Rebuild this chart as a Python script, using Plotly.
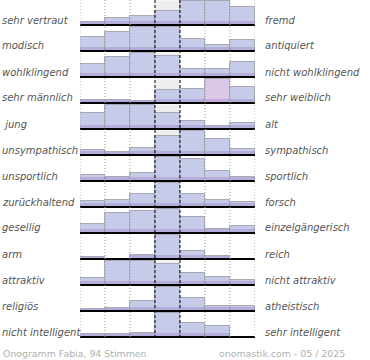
import plotly.graph_objects as go

# ---- data ----
left_labels = ["sehr vertraut", "modisch", "wohlklingend", "sehr männlich", " jung",
               "unsympathisch", "unsportlich", "zurückhaltend", "gesellig", "arm",
               "attraktiv", "religiös", "nicht intelligent"]
right_labels = ["fremd", "antiquiert", "nicht wohlklingend", "sehr weiblich", "alt",
                "sympathisch", "sportlich", "forsch", "einzelgängerisch", "reich",
                "nicht attraktiv", "atheistisch", "sehr intelligent"]

vertraut = [13, 27, 37, 57, 100, 100, 72]
modisch = [59, 79, 100, 100, 51, 24, 45]
wohlklingend = [53, 82, 100, 87, 31, 31, 61]
maennlich = [11, 12, 7, 54, 57, 100, 64]
jung = [65, 100, 100, 65, 34, 11, 23]
unsympathisch = [20, 12, 30, 79, 100, 65, 24]
unsportlich = [24, 16, 33, 100, 90, 39, 16]
zurueckhaltend = [24, 30, 53, 100, 55, 29, 20]
gesellig = [37, 82, 90, 100, 65, 16, 29]
arm = [9, 0, 15, 100, 31, 11, 0]
attraktiv = [27, 100, 100, 87, 47, 31, 19]
religioes = [8, 14, 42, 100, 55, 20, 20]
intelligent = [13, 13, 15, 100, 57, 46, 0]

rows = [vertraut, modisch, wohlklingend, maennlich, jung, unsympathisch, unsportlich,
        zurueckhaltend, gesellig, arm, attraktiv, religioes, intelligent]

footer_left = "Onogramm Fabia, 94 Stimmen"
footer_right = "onomastik.com - 05 / 2025"

# ---- layout geometry ----
W, H = 370, 360
ML, MR, MT, MB = 80, 115, 0, 20
PLOT_W = W - ML - MR
PLOT_H = H - MT - MB
FULL = 24.5
ROWH = 26
BASE0 = 25
NCOL = 7


def paper_x(px):
    return (px - ML) / PLOT_W


def paper_y(py):
    return 1 - (py - MT) / PLOT_H


BAR_COLOR = "#c5cbe9"
PINK = "#dcc8e6"
LABEL_FONT = dict(family="DejaVu Sans", size=10, color="#555555", style="italic")
FOOT_FONT = dict(family="DejaVu Sans", size=9.4, color="#b0b0b0")

fig = go.Figure()
shapes = []
annotations = []

for i, vals in enumerate(rows):
    baseline = BASE0 + ROWH * i
    heights = [v / 100 * FULL for v in vals]
    colors = [BAR_COLOR] * NCOL
    if i == 3:
        colors[5] = PINK
    xs = [c + 0.5 for c in range(NCOL)]
    shapes.append(dict(type="rect", xref="x", yref="y", x0=3, x1=4,
                       y0=baseline - FULL, y1=baseline, fillcolor="#eeeeee",
                       line=dict(width=0), layer="below"))
    fig.add_trace(go.Bar(
        x=xs, y=[-h for h in heights], base=[baseline] * NCOL, width=1,
        marker=dict(color=colors, line=dict(color="#a9a9b5", width=1)),
        hoverinfo="skip", showlegend=False))
    fig.add_trace(go.Bar(
        x=xs, y=[-min(h, 4) for h in heights], base=[baseline] * NCOL, width=1,
        marker=dict(color="rgba(140,110,185,0.3)", line=dict(width=0)),
        hoverinfo="skip", showlegend=False))
    shapes.append(dict(type="line", xref="x", yref="y", x0=0, x1=NCOL,
                       y0=baseline, y1=baseline, line=dict(color="black", width=2),
                       layer="above"))
    annotations.append(dict(x=paper_x(0), y=paper_y(baseline - 5), xref="paper",
                            yref="paper", text=left_labels[i], showarrow=False,
                            xanchor="left", yanchor="middle", font=LABEL_FONT))
    annotations.append(dict(x=paper_x(263), y=paper_y(baseline - 5), xref="paper",
                            yref="paper", text=right_labels[i], showarrow=False,
                            xanchor="left", yanchor="middle", font=LABEL_FONT))

for k in [0, 1, 2, 5, 6, 7]:
    shapes.append(dict(type="line", xref="x", yref="y", x0=k, x1=k, y0=0, y1=339,
                       line=dict(color="#999999", width=1, dash="1px,2px"),
                       layer="above"))
for k in [3, 4]:
    shapes.append(dict(type="line", xref="x", yref="y", x0=k, x1=k, y0=0, y1=339,
                       line=dict(color="black", width=1, dash="3px,2px"), layer="above"))

annotations.append(dict(x=paper_x(1), y=paper_y(353), xref="paper", yref="paper",
                        text=footer_left, showarrow=False, xanchor="left",
                        yanchor="middle", font=FOOT_FONT))
annotations.append(dict(x=paper_x(347), y=paper_y(353), xref="paper", yref="paper",
                        text=footer_right, showarrow=False, xanchor="right",
                        yanchor="middle", font=FOOT_FONT))

fig.update_layout(
    width=W, height=H,
    margin=dict(l=ML, r=MR, t=MT, b=MB, pad=0),
    paper_bgcolor="white", plot_bgcolor="white",
    barmode="overlay", bargap=0,
    xaxis=dict(range=[0, NCOL], visible=False, fixedrange=True),
    yaxis=dict(range=[PLOT_H, 0], visible=False, fixedrange=True),
    shapes=shapes, annotations=annotations,
    showlegend=False,
)

fig.write_html("out.html", config={"displayModeBar": False},
               post_script="document.body.style.margin='0';")
